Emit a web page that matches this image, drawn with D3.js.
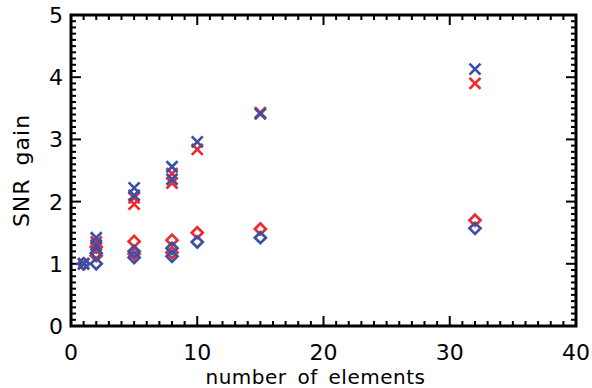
<!DOCTYPE html>
<html>
<head>
<meta charset="utf-8">
<script src="https://cdn.jsdelivr.net/npm/d3@7"></script>
<style>
  body { margin: 0; background: #fff; }
  svg text { font-family: "DejaVu Sans", sans-serif; fill: #000; }
</style>
</head>
<body>
<svg id="chart" width="592" height="388"></svg>
<script>
// number of elements vs SNR gain, [x, y] pairs
var redCross = [[1, 1.0], [2, 1.35], [2, 1.25], [5, 2.06], [5, 1.96], [8, 2.45], [8, 2.30], [10, 2.84], [15, 3.43], [32, 3.90]];
var blueCross = [[1, 1.0], [2, 1.42], [2, 1.30], [5, 2.22], [5, 2.10], [8, 2.56], [8, 2.36], [10, 2.96], [15, 3.41], [32, 4.13]];
var redDiamond = [[1, 1.0], [2, 1.27], [2, 1.13], [5, 1.36], [5, 1.16], [8, 1.38], [8, 1.18], [10, 1.50], [15, 1.56], [32, 1.70]];
var blueDiamond = [[1, 1.0], [2, 1.17], [2, 1.0], [5, 1.20], [5, 1.10], [8, 1.25], [8, 1.12], [10, 1.35], [15, 1.42], [32, 1.57]];
var xTicks = [0, 10, 20, 30, 40];
var yTicks = [0, 1, 2, 3, 4, 5];

var margin = {top: 15, right: 16, bottom: 62, left: 71};
var width = 592 - margin.left - margin.right,
    height = 388 - margin.top - margin.bottom;

var svg = d3.select("#chart");
var g = svg.append("g").attr("transform", "translate(" + margin.left + "," + margin.top + ")");

var x = d3.scaleLinear().domain([0, 40]).range([0, width]);
var y = d3.scaleLinear().domain([0, 5]).range([height, 0]);

var red = "#ee2a2e", blue = "#3a50a6";

// minor ticks, all four sides, pointing in
var xMinor = d3.range(0, 41, 1), yMinor = d3.range(0, 5.01, 0.1);
var ticks = g.append("g").attr("stroke", "#000").attr("stroke-width", 2);
xMinor.forEach(function(d) {
  var len = xTicks.indexOf(d) >= 0 ? 10 : 5;
  ticks.append("line").attr("x1", x(d)).attr("x2", x(d)).attr("y1", height).attr("y2", height - len);
  ticks.append("line").attr("x1", x(d)).attr("x2", x(d)).attr("y1", 0).attr("y2", len);
});
yMinor.forEach(function(d) {
  var major = Math.abs(d - Math.round(d)) < 1e-6;
  var len = major ? 10 : 5;
  ticks.append("line").attr("y1", y(d)).attr("y2", y(d)).attr("x1", 0).attr("x2", len);
  ticks.append("line").attr("y1", y(d)).attr("y2", y(d)).attr("x1", width).attr("x2", width - len);
});

g.append("rect").attr("width", width).attr("height", height)
  .attr("fill", "none").attr("stroke", "#000").attr("stroke-width", 3);

// tick labels
g.selectAll(".xl").data(xTicks).enter().append("text")
  .attr("x", function(d) { return x(d); }).attr("y", height + 34)
  .attr("text-anchor", "middle").attr("font-size", 22).text(function(d) { return d; });
g.selectAll(".yl").data(yTicks).enter().append("text")
  .attr("x", -8).attr("y", function(d) { return y(d) + 8; })
  .attr("text-anchor", "end").attr("font-size", 22).text(function(d) { return d; });

g.append("text").attr("x", width / 2 - 8).attr("y", height + 58)
  .attr("text-anchor", "middle").attr("font-size", 20).attr("word-spacing", 4)
  .attr("letter-spacing", 0.5)
  .text("number of elements");
g.append("text").attr("transform", "translate(-42," + (height / 2) + ") rotate(-90)")
  .attr("text-anchor", "middle").attr("font-size", 22).attr("word-spacing", 5)
  .attr("letter-spacing", 1)
  .text("SNR gain");

// markers
var s = 5.5;
function crosses(data, color) {
  var p = g.append("g").attr("stroke", color).attr("stroke-width", 2.7).attr("fill", "none");
  p.selectAll("path").data(data).enter().append("path")
    .attr("d", function(d) {
      var cx = x(d[0]), cy = y(d[1]);
      return "M" + (cx - s) + "," + (cy - s) + "L" + (cx + s) + "," + (cy + s) +
             "M" + (cx - s) + "," + (cy + s) + "L" + (cx + s) + "," + (cy - s);
    });
}
function diamonds(data, color) {
  var p = g.append("g").attr("stroke", color).attr("stroke-width", 2.7).attr("fill", "none");
  p.selectAll("path").data(data).enter().append("path")
    .attr("d", function(d) {
      var cx = x(d[0]), cy = y(d[1]);
      return "M" + cx + "," + (cy - s) + "L" + (cx + s) + "," + cy +
             "L" + cx + "," + (cy + s) + "L" + (cx - s) + "," + cy + "Z";
    });
}
crosses(redCross, red);
diamonds(redDiamond, red);
crosses(blueCross, blue);
diamonds(blueDiamond, blue);
</script>
</body>
</html>
